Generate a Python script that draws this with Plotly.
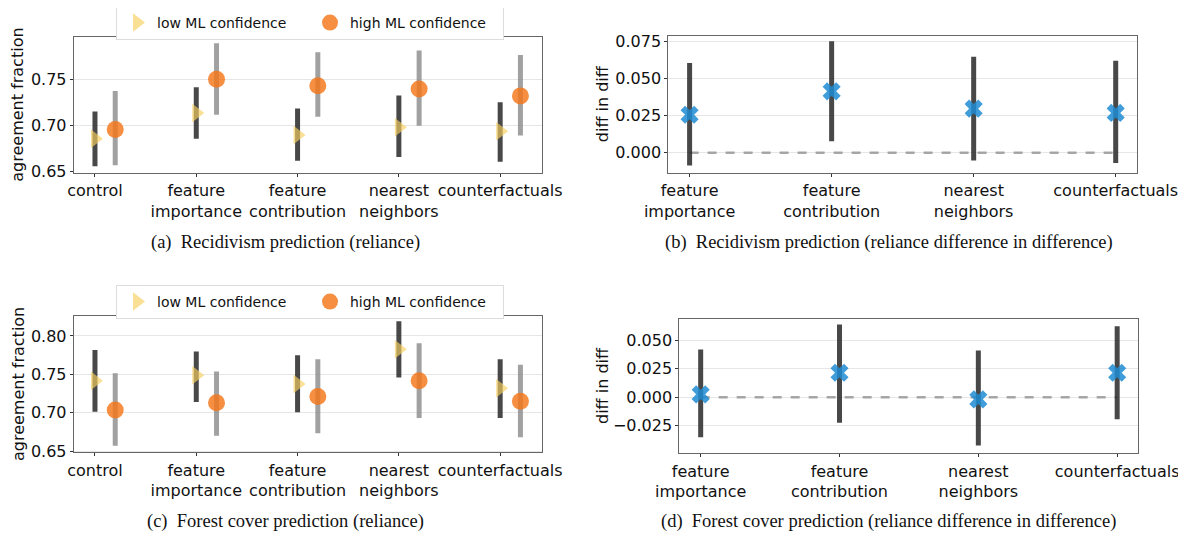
import plotly.graph_objects as go

# ---------------- data ----------------
rel_categories = ["control", "feature<br>importance", "feature<br>contribution",
                  "nearest<br>neighbors", "counterfactuals"]
diff_categories = ["feature<br>importance", "feature<br>contribution",
                   "nearest<br>neighbors", "counterfactuals"]

# (a) Recidivism prediction (reliance)
rec_low = [0.686, 0.714, 0.690, 0.6985, 0.694]
rec_low_lo = [0.656, 0.686, 0.662, 0.666, 0.661]
rec_low_hi = [0.7155, 0.742, 0.719, 0.733, 0.7257]
rec_high = [0.696, 0.7507, 0.7435, 0.740, 0.7326]
rec_high_lo = [0.657, 0.712, 0.710, 0.700, 0.6895]
rec_high_hi = [0.738, 0.790, 0.780, 0.782, 0.777]

# (b) Recidivism prediction (diff in diff)
rec_diff = [0.0257, 0.0415, 0.0298, 0.0269]
rec_diff_lo = [-0.0086, 0.0077, -0.0052, -0.0070]
rec_diff_hi = [0.0606, 0.0754, 0.0648, 0.0621]

# (c) Forest cover prediction (reliance)
for_low = [0.7417, 0.7487, 0.7374, 0.7826, 0.7317]
for_low_lo = [0.7013, 0.7139, 0.7004, 0.7457, 0.6930]
for_low_hi = [0.7817, 0.7796, 0.7748, 0.8191, 0.7696]
for_high = [0.7035, 0.7130, 0.7209, 0.7417, 0.7148]
for_high_lo = [0.657, 0.670, 0.673, 0.693, 0.6678]
for_high_hi = [0.7513, 0.7535, 0.7696, 0.7904, 0.7626]

# (d) Forest cover prediction (diff in diff)
for_diff = [0.0026, 0.0216, -0.0018, 0.0216]
for_diff_lo = [-0.0350, -0.0222, -0.0423, -0.0193]
for_diff_hi = [0.0420, 0.0639, 0.0411, 0.0624]

captions = ["(a)\u00a0\u00a0Recidivism prediction (reliance)",
            "(b)\u00a0\u00a0Recidivism prediction (reliance difference in difference)",
            "(c)\u00a0\u00a0Forest cover prediction (reliance)",
            "(d)\u00a0\u00a0Forest cover prediction (reliance difference in difference)"]

# ---------------- styling ----------------
OX, OY = 8, 8          # page body margin of the browser
W, H = 1186 - OX, 535 - OY
FONT = "DejaVu Sans"
LOW_MARK = "rgba(246, 208, 95, 0.66)"
LOW_BAR = "rgba(40, 40, 40, 0.85)"
HIGH_MARK = "rgba(244, 118, 24, 0.82)"
HIGH_BAR = "rgba(130, 130, 130, 0.75)"
DIFF_MARK = "rgba(30, 140, 212, 0.85)"
DIFF_BAR = "rgba(40, 40, 40, 0.85)"


def fx(a):
    return (a - OX) / W


def fy(a):
    return 1 - (a - OY) / H


def px_x(a, b):
    return [fx(a), fx(b)]


def px_y(top, bottom):
    return [fy(bottom), fy(top)]


fig = go.Figure()


def rel_panel(xa, ya, low, low_lo, low_hi, high, high_lo, high_hi, legend, show):
    n = len(low)
    xs = list(range(n))
    fig.add_trace(go.Scatter(
        x=xs, y=low, mode="markers", name="low ML confidence",
        xaxis=xa, yaxis=ya, legend=legend, showlegend=show,
        marker=dict(symbol="triangle-right", size=16, color=LOW_MARK, line=dict(width=0)),
        error_y=dict(type="data", symmetric=False,
                     array=[h - v for h, v in zip(low_hi, low)],
                     arrayminus=[v - l for v, l in zip(low, low_lo)],
                     color=LOW_BAR, thickness=5, width=0)))
    fig.add_trace(go.Scatter(
        x=[i + 0.2 for i in xs], y=high, mode="markers", name="high ML confidence",
        xaxis=xa, yaxis=ya, legend=legend, showlegend=show,
        marker=dict(symbol="circle", size=17, color=HIGH_MARK, line=dict(width=0)),
        error_y=dict(type="data", symmetric=False,
                     array=[h - v for h, v in zip(high_hi, high)],
                     arrayminus=[v - l for v, l in zip(high, high_lo)],
                     color=HIGH_BAR, thickness=5, width=0)))


def diff_panel(xa, ya, vals, lo, hi):
    n = len(vals)
    xs = list(range(n))
    fig.add_trace(go.Scatter(
        x=[xs[0], xs[-1]], y=[0, 0], mode="lines", showlegend=False,
        xaxis=xa, yaxis=ya, hoverinfo="skip",
        line=dict(color="rgba(140,140,140,0.75)", width=2.5, dash="dash")))
    fig.add_trace(go.Scatter(
        x=xs, y=vals, mode="markers", showlegend=False,
        xaxis=xa, yaxis=ya,
        marker=dict(symbol="x", size=16, color=DIFF_MARK, line=dict(width=0)),
        error_y=dict(type="data", symmetric=False,
                     array=[h - v for h, v in zip(hi, vals)],
                     arrayminus=[v - l for v, l in zip(vals, lo)],
                     color=DIFF_BAR, thickness=5, width=0)))


rel_panel("x", "y", rec_low, rec_low_lo, rec_low_hi, rec_high, rec_high_lo, rec_high_hi, "legend", True)
diff_panel("x2", "y2", rec_diff, rec_diff_lo, rec_diff_hi)
rel_panel("x3", "y3", for_low, for_low_lo, for_low_hi, for_high, for_high_lo, for_high_hi, "legend2", True)
diff_panel("x4", "y4", for_diff, for_diff_lo, for_diff_hi)

axis_common = dict(showline=True, linecolor="#666666", linewidth=1, mirror=True,
                   ticks="outside", ticklen=3, tickcolor="#333333", tickwidth=1,
                   tickfont=dict(family=FONT, size=16, color="#111111"),
                   zeroline=False, automargin=False)

xcat = dict(axis_common, showgrid=False, tickmode="array", tickangle=0)
ygrid = dict(axis_common, showgrid=True, gridcolor="#e6e6e6", gridwidth=1, tickmode="array")

legend_common = dict(orientation="h", xanchor="left", yanchor="top",
                     bordercolor="#dddddd", borderwidth=1, bgcolor="white",
                     font=dict(family=FONT, size=14), itemwidth=30, entrywidth=148,
                     tracegroupgap=0)

fig.update_layout(
    width=W, height=H,
    margin=dict(l=0, r=0, t=0, b=0, autoexpand=False),
    paper_bgcolor="white", plot_bgcolor="white",
    font=dict(family=FONT, size=14, color="#111111"),
    xaxis=dict(xcat, domain=px_x(73.7, 541.7), range=[-0.21, 4.41], anchor="y",
               tickvals=list(range(len(rel_categories))), ticktext=rel_categories),
    yaxis=dict(ygrid, domain=px_y(36.7, 172.7), range=[0.649, 0.797], anchor="x",
               tickvals=[0.65, 0.70, 0.75], tickformat=".2f"),
    xaxis2=dict(xcat, domain=px_x(668.3, 1137), range=[-0.15, 3.15], anchor="y2",
                tickvals=list(range(len(diff_categories))), ticktext=diff_categories),
    yaxis2=dict(ygrid, domain=px_y(35.7, 172.7), range=[-0.0135, 0.0791], anchor="x2",
                tickvals=[0.0, 0.025, 0.05, 0.075], tickformat=".3f"),
    xaxis3=dict(xcat, domain=px_x(73.7, 541.7), range=[-0.21, 4.41], anchor="y3",
                tickvals=list(range(len(rel_categories))), ticktext=rel_categories),
    yaxis3=dict(ygrid, domain=px_y(316, 452.3), range=[0.6483, 0.826], anchor="x3",
                tickvals=[0.65, 0.70, 0.75, 0.80], tickformat=".2f"),
    xaxis4=dict(xcat, domain=px_x(679.3, 1138), range=[-0.154, 3.15], anchor="y4",
                tickvals=list(range(len(diff_categories))), ticktext=diff_categories),
    yaxis4=dict(ygrid, domain=px_y(319, 453.3), range=[-0.0491, 0.0687], anchor="x4",
                tickvals=[-0.025, 0.0, 0.025, 0.05], tickformat=".3f"),
    legend=dict(legend_common, x=fx(116), y=fy(6)),
    legend2=dict(legend_common, x=fx(116), y=fy(285)),
)

annotations = []
# y-axis titles
for xpx, ypx, txt in [(18, 104.7, "agreement fraction"), (602, 104.2, "diff in diff"),
                      (18, 384, "agreement fraction"), (602, 386, "diff in diff")]:
    annotations.append(dict(x=fx(xpx), y=fy(ypx), xref="paper", yref="paper",
                            text=txt, textangle=-90, showarrow=False,
                            xanchor="center", yanchor="middle",
                            font=dict(family=FONT, size=16, color="#111111")))
# captions
for (xpx, ypx), txt in zip([(285, 242), (889, 242), (285, 521), (888, 521)], captions):
    annotations.append(dict(x=fx(xpx), y=fy(ypx), xref="paper", yref="paper",
                            text=txt, showarrow=False, xanchor="center", yanchor="middle",
                            font=dict(family="Liberation Serif", size=18.5, color="#111111")))
fig.update_layout(annotations=annotations)

fig.write_html("out.html")
